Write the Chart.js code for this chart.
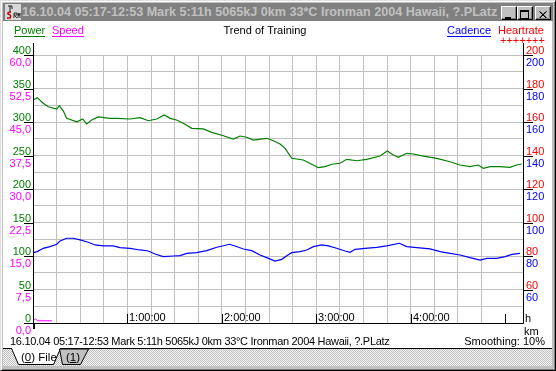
<!DOCTYPE html>
<html>
<head>
<meta charset="utf-8">
<script src="https://cdn.jsdelivr.net/npm/chart.js@4"></script>
<style>
  body { margin: 0; width: 556px; height: 371px; background: #c0c0c0; position: relative; overflow: hidden;
         font-family: "Liberation Sans", Arial, sans-serif; }
  .abs { position: absolute; }
  #edge { left: 0; top: 0; width: 556px; height: 371px; box-sizing: border-box;
          border-top: 1px solid #dfdfdf; border-left: 1px solid #dfdfdf; border-right: 1px solid #000; border-bottom: 1px solid #000;
          box-shadow: inset 1px 1px 0 #fff, inset -1px -1px 0 #808080; }
  #titlebar { left: 3px; top: 3px; width: 550px; height: 18px; background: #808080; }
  #titletext { left: 19px; top: 0; line-height: 18px; font-size: 12.6px; font-weight: bold; color: #c0c0c0; white-space: nowrap; }
  #icon { left: 2px; top: 1px; width: 16px; height: 16px; background: #d8d8d8; }
  .btn { top: 3px; width: 16px; height: 14px; box-sizing: border-box; background: #c0c0c0;
         border-top: 1px solid #fff; border-left: 1px solid #fff; border-right: 1px solid #000; border-bottom: 1px solid #000;
         box-shadow: inset -1px -1px 0 #808080; }
  #client { left: 3px; top: 21px; width: 549px; height: 327px; background: #fff; }
  #chart { position: absolute; left: 3px; top: 21px; }
  #status { left: 10px; top: 335px; font-size: 11px; line-height: 12px; letter-spacing: -0.3px; color: #000; white-space: nowrap; }
  #smooth { right: 11px; top: 335px; font-size: 11px; line-height: 12px; color: #000; white-space: nowrap; }
  #tabs { left: 3px; top: 348px; width: 549px; height: 18px;
          background-image: repeating-conic-gradient(#c0c0c0 0 25%, #f4f4f4 0 50%); background-size: 2px 2px; }
  .tab { font-size: 11.5px; line-height: 12px; color: #000; white-space: nowrap; }
</style>
</head>
<body>
<div id="edge" class="abs"></div>
<div id="titlebar" class="abs">
  <div id="icon" class="abs">
    <svg width="16" height="16">
      <path d="M3 2 L7 2 L7 5 M5 2 L5 8" stroke="#222" fill="none"/>
      <path d="M6 8 Q2 8 3 10 Q7 11 5 14 L2 14" stroke="#d00000" stroke-width="1.5" fill="none"/>
      <path d="M9 14 L9 9 L12 9 L12 11 L9 11 L12 14 M13 14 L13 9 L14 12 L15 9 L15 14" stroke="#333" fill="none"/>
    </svg>
  </div>
  <div id="titletext" class="abs">16.10.04 05:17-12:53 Mark 5:11h 5065kJ 0km 33*C Ironman 2004 Hawaii, ?.PLatz</div>
  <div class="btn abs" style="left:498px">
    <svg width="14" height="12"><rect x="3" y="8" width="6" height="2" fill="#000"/></svg>
  </div>
  <div class="btn abs" style="left:514px">
    <svg width="14" height="12"><rect x="2.5" y="1.5" width="8" height="8" fill="none" stroke="#000"/><rect x="2" y="1" width="9" height="2" fill="#000"/></svg>
  </div>
  <div class="btn abs" style="left:532px">
    <svg width="14" height="12"><path d="M3.5 2.5 L10 9 M10 2.5 L3.5 9 M4 2.5 L10.5 9 M10.5 2.5 L4 9" stroke="#000" stroke-width="1"/></svg>
  </div>
</div>
<div id="client" class="abs"></div>
<canvas id="chart" width="549" height="315"></canvas>
<div id="status" class="abs">16.10.04 05:17-12:53 Mark 5:11h 5065kJ 0km 33°C Ironman 2004 Hawaii, ?.PLatz</div>
<div id="smooth" class="abs">Smoothing: 10%</div>
<div id="tabs" class="abs">
  <svg width="549" height="18" style="position:absolute;left:0;top:0">
    <path d="M0 0.5 L9 0.5 M57 0.5 L549 0.5" stroke="#000"/>
    <polygon points="8.5,0 57.5,0 50.5,16.5 15.5,16.5" fill="#fff"/>
    <path d="M8.5 0.5 L15.5 16.5 L50.5 16.5 L57.5 0.5" stroke="#000" fill="none"/>
    <polygon points="56.5,1 85.5,1 77.5,16.5 59.5,16.5" fill="#c0c0c0" stroke="#000"/>
  </svg>
  <div class="tab abs" style="left:18px;top:3px">(<u>0</u>) File</div>
  <div class="tab abs" style="left:63px;top:3px">(<u>1</u>)</div>
</div>

<script>
// time in minutes from start of ride
const powerTime = [0.2, 2.7, 6.5, 9.7, 15.1, 16.7, 19.3, 21.4, 27.8, 31.6, 34.1, 37.3, 41.5, 48.9, 53.2, 61.7,
  68.0, 73.3, 78.6, 83.5, 87.1, 91.3, 95.5, 100.9, 108.2, 113.6, 121.0, 127.3, 131.6, 135.8, 140.0, 148.5,
  152.7, 157.0, 160.2, 164.4, 171.8, 177.1, 181.3, 185.6, 189.9, 195.1, 199.4, 205.7, 212.1, 220.5, 225.2,
  229.0, 232.2, 237.5, 241.7, 248.1, 256.6, 265.0, 271.4, 277.7, 283.0, 286.2, 290.4, 296.8, 303.1, 307.4, 310.6];
const powerWatts = [332.8, 336.3, 327.9, 322.8, 319.4, 324.3, 316.4, 305.5, 300.4, 304.5, 297.0, 303.0, 307.5, 305.5, 305.5, 304.5,
  306.4, 301.9, 304.5, 310.4, 305.5, 303.0, 298.1, 290.6, 289.6, 284.6, 279.5, 274.6, 279.1, 277.2, 273.1, 275.7,
  272.1, 267.2, 260.7, 245.8, 243.3, 236.9, 231.8, 233.3, 236.9, 238.4, 244.3, 242.2, 244.3, 249.2, 256.7,
  250.7, 247.3, 253.3, 252.2, 249.2, 245.8, 240.7, 235.8, 233.3, 235.8, 230.9, 233.3, 233.3, 232.4, 235.8, 237.3];

const cadenceTime = [0.2, 2.7, 6.5, 10.8, 15.1, 17.2, 21.4, 25.6, 29.9, 35.1, 39.4, 44.7, 51.0, 55.3, 61.7, 68.0,
  73.3, 77.5, 82.8, 89.2, 93.4, 97.7, 104.0, 110.4, 116.8, 121.0, 124.8, 128.4, 133.7, 139.0, 144.3, 148.5,
  153.8, 158.1, 161.3, 164.4, 169.7, 174.0, 178.2, 183.5, 187.7, 193.0, 198.3, 201.5, 204.7, 211.0, 218.5,
  224.8, 232.8, 237.5, 243.9, 252.3, 258.7, 265.0, 271.4, 277.7, 284.1, 288.4, 294.7, 300.0, 304.3, 309.5];
const cadenceRpm = [82.0, 82.6, 84.6, 85.6, 87.0, 89.0, 90.6, 90.6, 89.6, 88.2, 86.6, 86.1, 86.0, 85.0, 84.6, 83.6,
  83.0, 81.2, 79.6, 80.0, 80.2, 81.6, 82.0, 83.2, 85.2, 86.1, 87.0, 86.0, 84.2, 83.2, 80.6, 79.0,
  77.0, 78.0, 80.2, 82.0, 82.6, 83.6, 85.6, 86.6, 86.0, 84.6, 83.0, 82.2, 84.0, 84.6, 85.2,
  86.0, 87.6, 85.6, 85.0, 84.2, 82.6, 81.6, 80.6, 79.0, 77.6, 78.6, 78.6, 79.6, 81.0, 81.6];

const speedTime = [0.3, 1.5, 3.0, 12.0];
const speedKmh = [0.7, 0.9, 0.5, 0.5];

const powerTicks = [0, 50, 100, 150, 200, 250, 300, 350, 400];
const speedLabels = ['0,0', '7,5', '15,0', '22,5', '30,0', '37,5', '45,0', '52,5', '60,0'];
const rightTicks = [60, 80, 100, 120, 140, 160, 180, 200];
const hourTicks = [60, 120, 180, 240, 300];
const hourLabels = ['1:00:00', '2:00:00', '3:00:00', '4:00:00', ''];

const FONT = '11px "Liberation Sans", Arial, sans-serif';
const GREEN = '#008000', MAGENTA = '#ff00ff', BLUE = '#0000ff', RED = '#ff0000';

const pts = (xs, ys) => xs.map((x, i) => ({ x: x, y: ys[i] }));

const overlay = {
  id: 'overlay',
  afterDraw(chart) {
    const { ctx, chartArea: a, scales } = chart;
    const yP = scales.yPower, yC = scales.yCad, xS = scales.x;
    ctx.save();
    ctx.font = FONT;

    // axis lines (extend a little above the plot)
    ctx.fillStyle = '#000';
    ctx.fillRect(a.left, a.top - 12, 1, a.bottom - a.top + 12);
    ctx.fillRect(a.right, a.top - 12, 1, a.bottom - a.top + 12);
    ctx.fillRect(a.left, a.bottom, a.right - a.left + 1, 1);
    ctx.fillRect(a.left, a.bottom, 2, 6);

    // left: power above, speed below each tick
    powerTicks.forEach((v, i) => {
      const y = Math.round(yP.getPixelForValue(v));
      ctx.fillStyle = '#000';
      ctx.fillRect(a.left - 9, y, 9, 1);
      ctx.textAlign = 'right';
      ctx.fillStyle = GREEN;
      ctx.fillText(String(v), a.left - 2, y - 1);
      ctx.fillStyle = MAGENTA;
      ctx.fillText(speedLabels[i], a.left - 2, y + 11);
    });

    // right: heartrate above, cadence below
    rightTicks.forEach(v => {
      const y = Math.round(yC.getPixelForValue(v));
      ctx.fillStyle = '#000';
      ctx.fillRect(a.right, y, 10, 1);
      ctx.textAlign = 'left';
      ctx.fillStyle = RED;
      ctx.fillText(String(v), a.right + 3, y - 1);
      ctx.fillStyle = BLUE;
      ctx.fillText(String(v), a.right + 3, y + 11);
    });
    ctx.fillStyle = '#000';
    ctx.textAlign = 'left';
    ctx.fillText('h', a.right + 2, a.bottom - 1);
    ctx.fillText('km', a.right + 1, a.bottom + 12);

    // hour marks along the bottom
    hourTicks.forEach((t, i) => {
      const x = Math.round(xS.getPixelForValue(t));
      ctx.fillStyle = '#000';
      ctx.fillRect(x, a.bottom - 9, 1, 9);
      if (hourLabels[i]) ctx.fillText(hourLabels[i], x + 2, a.bottom - 2);
    });

    // header: legend names and title
    const head = (txt, x, color, underline) => {
      ctx.fillStyle = color;
      ctx.fillText(txt, x, 13);
      if (underline) ctx.fillRect(x, 15, Math.round(ctx.measureText(txt).width), 1);
    };
    ctx.textAlign = 'left';
    head('Power', 11, GREEN, true);
    head('Speed', 49, MAGENTA, true);
    head('Cadence', 444, BLUE, true);
    head('Heartrate', 495, RED, false);
    ctx.fillStyle = RED;
    ctx.fillText('+++++++', 497, 23);
    ctx.fillStyle = '#000';
    ctx.textAlign = 'center';
    ctx.fillText('Trend of Training', 262, 13);
    ctx.restore();
  }
};

new Chart(document.getElementById('chart').getContext('2d'), {
  type: 'line',
  data: {
    datasets: [
      { label: 'Speed', data: pts(speedTime, speedKmh), yAxisID: 'ySpeed',
        borderColor: MAGENTA, borderWidth: 1, pointRadius: 0, tension: 0 },
      { label: 'Cadence', data: pts(cadenceTime, cadenceRpm), yAxisID: 'yCad',
        borderColor: BLUE, borderWidth: 1.2, pointRadius: 0, tension: 0 },
      { label: 'Power', data: pts(powerTime, powerWatts), yAxisID: 'yPower',
        borderColor: GREEN, borderWidth: 1.2, pointRadius: 0, tension: 0 }
    ]
  },
  options: {
    responsive: false,
    animation: false,
    events: [],
    layout: { padding: { left: 30, right: 29, top: 34, bottom: 13 } },
    plugins: { legend: { display: false }, tooltip: { enabled: false } },
    scales: {
      x: {
        type: 'linear', min: 0, max: 311.4,
        ticks: { display: false, stepSize: 15 },
        grid: { color: '#c0c0c0', drawTicks: false },
        border: { color: '#000' }
      },
      yPower: {
        position: 'left', min: 0, max: 400,
        ticks: { display: false, stepSize: 25 },
        grid: { color: '#c0c0c0', drawTicks: false },
        border: { color: '#000' }
      },
      ySpeed: { display: false, min: 0, max: 60 },
      yCad: {
        position: 'right', min: 40, max: 200,
        ticks: { display: false },
        grid: { drawOnChartArea: false, drawTicks: false },
        border: { color: '#000' }
      }
    }
  },
  plugins: [overlay]
});
</script>
</body>
</html>
